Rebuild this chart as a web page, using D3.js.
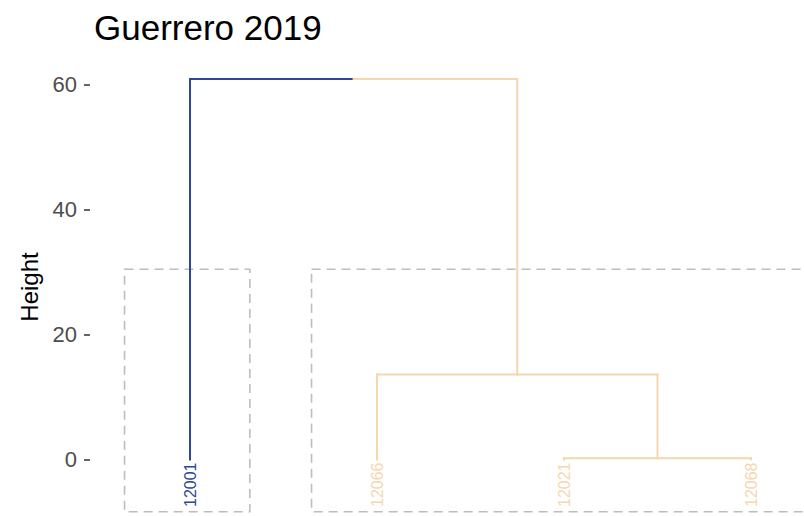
<!DOCTYPE html>
<html>
<head>
<meta charset="utf-8">
<script src="https://cdn.jsdelivr.net/npm/d3@7"></script>
<style>
  html, body { margin: 0; padding: 0; background: #fff; }
  svg { display: block; font-family: "Liberation Sans", Arial, sans-serif; }
</style>
</head>
<body>
<svg id="chart" width="804" height="516"></svg>
<script>
// Leaves in dendrogram order, their cluster, and the merge tree (hclust style:
// negative = leaf index (1-based), positive = earlier merge step).
const leafLabels = ["12001", "12066", "12021", "12068"];
const leafCluster = [0, 1, 1, 1];
const mergePairs = [[-3, -4], [-2, 1], [-1, 2]];
const mergeHeights = [0.2, 13.6, 60.9];
const clusterColors = ["#2c4796", "#f6d6ae"];
const yTicks = [0, 20, 40, 60];
const titleText = "Guerrero 2019";
const yTitle = "Height";

const svg = d3.select("#chart");

const x = d3.scaleLinear().domain([1, leafLabels.length]).range([190, 751]);
const y = d3.scaleLinear().domain([0, 60]).range([459.5, 84.5]);

// Build node table from the merge list
const leaves = leafLabels.map((lab, i) => ({ label: lab, pos: i + 1, h: 0, cluster: leafCluster[i] }));
const merges = [];
function node(ref) { return ref < 0 ? leaves[-ref - 1] : merges[ref - 1]; }
mergePairs.forEach((pair, i) => {
  const a = node(pair[0]), b = node(pair[1]);
  const cl = a.cluster === b.cluster ? a.cluster : null;
  merges.push({ children: [a, b], pos: (a.pos + b.pos) / 2, h: mergeHeights[i], cluster: cl });
});
const root = merges[merges.length - 1];

// Segment list: each child gets a vertical from its height up to the parent,
// plus a horizontal from its own position to the parent's midpoint.
const segs = [];
(function walk(n) {
  if (!n.children) return;
  n.children.forEach(c => {
    const col = c.cluster != null ? clusterColors[c.cluster] : "#888";
    segs.push({ x1: c.pos, y1: c.h, x2: c.pos, y2: n.h, color: col });
    segs.push({ x1: c.pos, y1: n.h, x2: n.pos, y2: n.h, color: col });
    walk(c);
  });
})(root);

// Cluster rectangles (cut at half of the top merge height)
const cutH = root.h / 2;
const rectPadL = 0.35, rectPadR = 0.32;
const rectBottom = -8.35;
const groups = d3.groups(leaves, d => d.cluster).map(([k, ls]) => ({
  k, lo: d3.min(ls, d => d.pos), hi: d3.max(ls, d => d.pos)
}));
svg.append("g").selectAll("rect").data(groups).join("rect")
  .attr("x", d => x(d.lo - rectPadL))
  .attr("y", y(cutH))
  .attr("width", d => x(d.hi + rectPadR) - x(d.lo - rectPadL))
  .attr("height", y(rectBottom) - y(cutH))
  .attr("fill", "none")
  .attr("stroke", "#bdbdbd")
  .attr("stroke-width", 1.6)
  .attr("stroke-dasharray", "9,6");

// Branches
svg.append("g").selectAll("line").data(segs).join("line")
  .attr("x1", d => x(d.x1)).attr("y1", d => y(d.y1))
  .attr("x2", d => x(d.x2)).attr("y2", d => y(d.y2))
  .attr("stroke", d => d.color)
  .attr("stroke-width", 2)
  .attr("stroke-linecap", "square");

// Leaf labels, rotated
svg.append("g").selectAll("text").data(leaves).join("text")
  .attr("transform", d => `translate(${x(d.pos)},${y(0) + 3}) rotate(-90)`)
  .attr("text-anchor", "end")
  .attr("dy", "0.36em")
  .attr("font-size", 16)
  .attr("fill", d => clusterColors[d.cluster])
  .text(d => d.label);

// Y axis
const yAxis = svg.append("g")
  .attr("transform", "translate(90,0)")
  .call(d3.axisLeft(y).tickValues(yTicks).tickSize(6).tickPadding(7));
yAxis.select(".domain").remove();
yAxis.selectAll(".tick line").attr("stroke", "#333").attr("stroke-width", 1.5);
yAxis.selectAll(".tick text")
  .attr("font-size", 22)
  .attr("font-family", "Liberation Sans, Arial, sans-serif")
  .attr("fill", "#4d4d4d");

// Axis title
svg.append("text")
  .attr("transform", "translate(38,287) rotate(-90)")
  .attr("text-anchor", "middle")
  .attr("font-size", 24)
  .attr("fill", "#000")
  .text(yTitle);

// Title
svg.append("text")
  .attr("x", 94)
  .attr("y", 40)
  .attr("font-size", 35)
  .attr("fill", "#000")
  .text(titleText);
</script>
</body>
</html>
